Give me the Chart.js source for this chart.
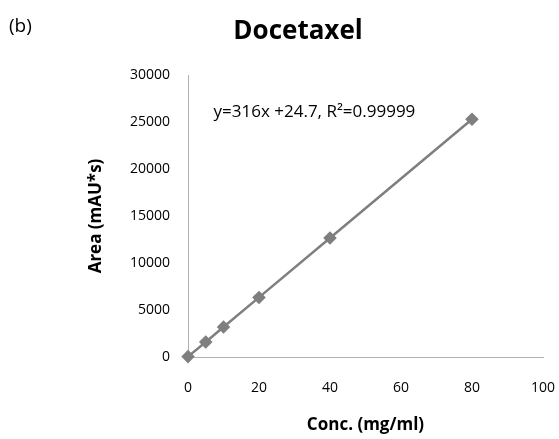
<!DOCTYPE html>
<html>
<head>
<meta charset="utf-8">
<script src="https://cdn.jsdelivr.net/npm/chart.js@4"></script>
<style>
  html, body { margin: 0; padding: 0; background: #fff; }
  #wrap { width: 559px; height: 439px; position: relative; }
</style>
</head>
<body>
<div id="wrap"><canvas id="myChart" width="559" height="439"></canvas></div>
<script>
// concentrations (mg/ml) and peak areas
const conc = [0, 5, 10, 20, 40, 80];
const area = [40, 1600, 3190, 6340, 12660, 25300];
const xTicks = [0, 20, 40, 60, 80, 100];
const yTicks = [0, 5000, 10000, 15000, 20000, 25000, 30000];
const equation = 'y=316x +24.7, R²=0.99999';
const fontFamily = '"Open Sans", "Noto Sans", sans-serif';
const grey = '#7f7f7f';

let labelPlugin = {
  id: 'labels',
  afterDraw(chart) {
    const c = chart.ctx;
    const x = chart.scales.x, y = chart.scales.y;
    c.save();
    c.fillStyle = '#000';
    c.textBaseline = 'middle';
    c.textAlign = 'left';
    c.font = '19px ' + fontFamily;
    c.fillText('(b)', 9, 27);
    // chart title
    c.textAlign = 'center';
    c.font = 'bold 26px ' + fontFamily;
    c.fillText('Docetaxel', 298, 32);
    // equation label inside plot area
    c.textAlign = 'left';
    c.font = '17px ' + fontFamily;
    c.fillText(equation, x.getPixelForValue(7.2), y.getPixelForValue(26100));
    c.restore();
  },
};

let ctx = document.getElementById('myChart').getContext('2d');
let myChart = new Chart(ctx, {
  type: 'scatter',
  data: {
    datasets: [
      {
        data: conc.map((c, i) => ({ x: c, y: area[i] })),
        showLine: true,
        clip: false,
        borderColor: grey,
        backgroundColor: grey,
        borderWidth: 2.5,
        pointStyle: 'rectRot',
        pointRadius: 5,
        pointHoverRadius: 5,
      },
    ],
  },
  plugins: [labelPlugin],
  options: {
    responsive: false,
    animation: false,
    layout: { padding: { left: 86, right: 16, top: 75, bottom: 0 } },
    scales: {
      x: {
        type: 'linear',
        min: 0,
        max: 100,
        afterBuildTicks: (s) => { s.ticks = xTicks.map((v) => ({ value: v })); },
        afterFit: (s) => { s.height = 82; s.paddingRight = 0; s.paddingLeft = 0; },
        grid: { display: false, drawTicks: false },
        border: { color: '#b0b0b0', width: 1 },
        ticks: {
          color: '#000',
          padding: 23,
          font: { size: 14, family: fontFamily },
          callback: (v) => String(v),
        },
        title: {
          display: true,
          text: 'Conc. (mg/ml)',
          color: '#000',
          padding: { top: 16 },
          font: { size: 17, weight: 'bold', family: fontFamily },
        },
      },
      y: {
        min: 0,
        max: 30000,
        afterBuildTicks: (s) => { s.ticks = yTicks.map((v) => ({ value: v })); },
        afterFit: (s) => { s.width = 102; s.paddingTop = 0; s.paddingBottom = 0; },
        grid: { display: false, drawTicks: false },
        border: { color: '#b0b0b0', width: 1 },
        ticks: {
          color: '#000',
          padding: 18,
          font: { size: 14, family: fontFamily },
          callback: (v) => String(v),
        },
        title: {
          display: true,
          text: 'Area (mAU*s)',
          color: '#000',
          padding: { top: 0, bottom: 0 },
          font: { size: 17, weight: 'bold', family: fontFamily },
        },
      },
    },
    plugins: {
      legend: { display: false },
      tooltip: { enabled: false },
      title: { display: false },
    },
  },
});
</script>
</body>
</html>
